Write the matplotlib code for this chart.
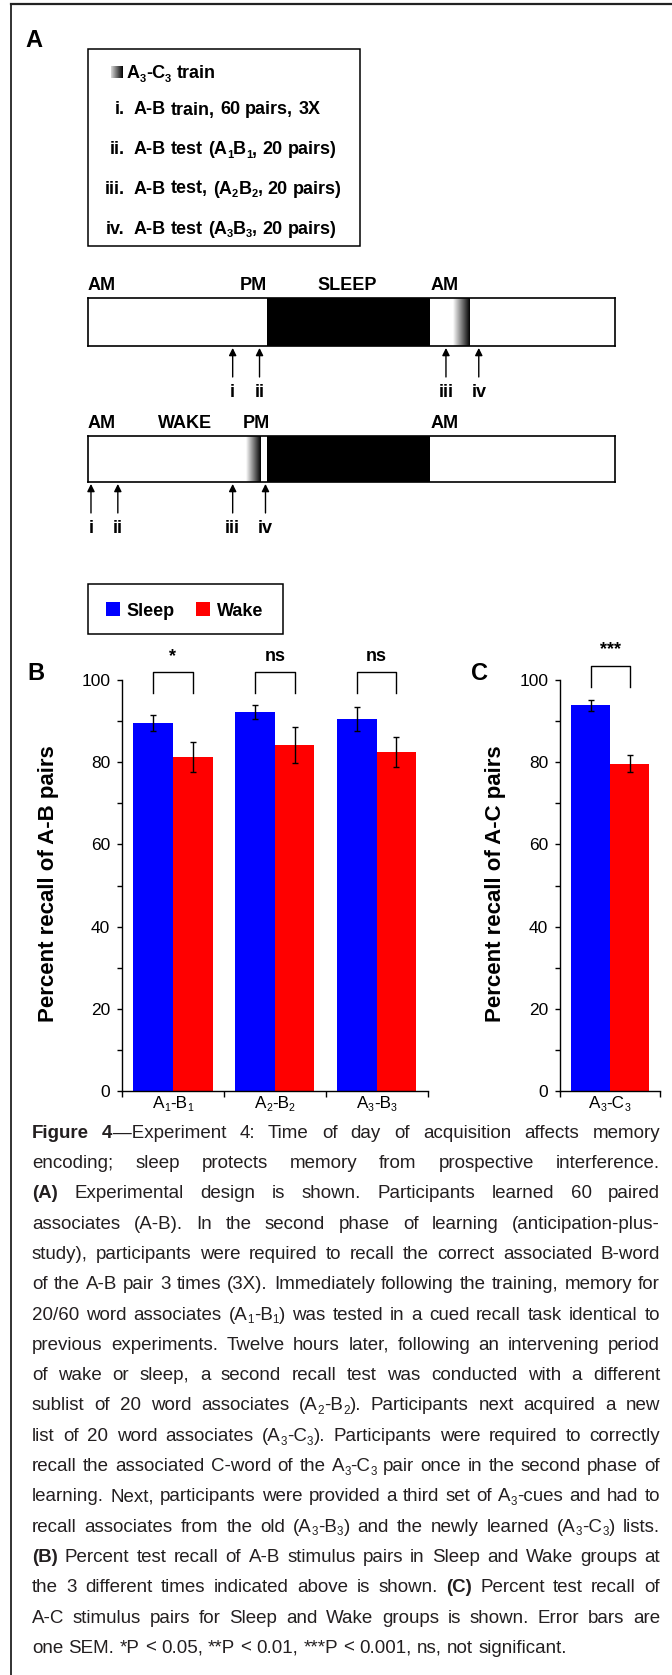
import matplotlib
matplotlib.use("Agg")
import matplotlib.pyplot as plt
import numpy as np
from matplotlib.font_manager import FontProperties
from matplotlib.patches import Rectangle
from matplotlib.lines import Line2D

W, H, DPI = 672, 1675, 100
FAM = ['Liberation Sans', 'DejaVu Sans']
plt.rcParams['font.family'] = FAM

# ---- data ----
ab_pairs = ['A_1-B_1', 'A_2-B_2', 'A_3-B_3']
ab_sleep = [89.5, 92.2, 90.5]
ab_sleep_sem = [2.0, 1.7, 3.0]
ab_wake = [81.2, 84.2, 82.5]
ab_wake_sem = [3.6, 4.3, 3.7]
ab_sig = ['*', 'ns', 'ns']

ac_pairs = ['A_3-C_3']
ac_sleep = [93.8]
ac_sleep_sem = [1.3]
ac_wake = [79.6]
ac_wake_sem = [2.1]
ac_sig = ['***']

group_names = ['Sleep', 'Wake']
group_colors = ['#0000ff', '#ff0000']
y_ticks = [0, 20, 40, 60, 80, 100]

design_keys = ['', 'i.', 'ii.', 'iii.', 'iv.']
design_text = ['A_3-C_3 train', 'A-B train, 60 pairs, 3X', 'A-B test (A_1B_1, 20 pairs)',
               'A-B test, (A_2B_2, 20 pairs)', 'A-B test (A_3B_3, 20 pairs)']

# timelines, hours from the first morning on each bar
span_h = 35.3
night = (12.0, 22.9)
sleep_train = (24.5, 25.6)
wake_train = (10.6, 11.6)
event_names = ['i', 'ii', 'iii', 'iv']
sleep_events = [9.7, 11.5, 24.0, 26.2]
wake_events = [0.2, 2.0, 9.7, 11.9]
sleep_marks = [('AM', 0.0), ('PM', 12.0), ('SLEEP', 17.35), ('AM', 22.95)]
wake_marks = [('AM', 0.0), ('WAKE', 6.5), ('PM', 12.2), ('AM', 22.95)]
mark_align = {'AM': 'left', 'PM': 'right'}

# § toggles bold, _x makes x a subscript
caption = [
    "§Figure 4§—Experiment 4: Time of day of acquisition affects memory",
    "encoding; sleep protects memory from prospective interference.",
    "§(A)§ Experimental design is shown. Participants learned 60 paired",
    "associates (A-B). In the second phase of learning (anticipation-plus-",
    "study), participants were required to recall the correct associated B-word",
    "of the A-B pair 3 times (3X). Immediately following the training, memory for",
    "20/60 word associates (A_1-B_1) was tested in a cued recall task identical to",
    "previous experiments. Twelve hours later, following an intervening period",
    "of wake or sleep, a second recall test was conducted with a different",
    "sublist of 20 word associates (A_2-B_2). Participants next acquired a new",
    "list of 20 word associates (A_3-C_3). Participants were required to correctly",
    "recall the associated C-word of the A_3-C_3 pair once in the second phase of",
    "learning. Next, participants were provided a third set of A_3-cues and had to",
    "recall associates from the old (A_3-B_3) and the newly learned (A_3-C_3) lists.",
    "§(B)§ Percent test recall of A-B stimulus pairs in Sleep and Wake groups at",
    "the 3 different times indicated above is shown. §(C)§ Percent test recall of",
    "A-C stimulus pairs for Sleep and Wake groups is shown. Error bars are",
    "one SEM. *P < 0.05, **P < 0.01, ***P < 0.001, ns, not significant.",
]

fig = plt.figure(figsize=(W / DPI, H / DPI), dpi=DPI)
fig.patch.set_facecolor('white')
R = fig.canvas.get_renderer()


def fx(x):
    return x / W


def fy(y):
    return 1 - y / H


def px_rect(x0, y0, x1, y1):
    return [x0 / W, 1 - y1 / H, (x1 - x0) / W, (y1 - y0) / H]


# ---- small rich text helper (bold runs, subscripts, justification) ----
SUB = 0.62


def fprop(size, bold):
    return FontProperties(family=FAM, size=size, weight='bold' if bold else 'normal')


def ink_w(s, size, bold):
    return R.get_text_width_height_descent(s, fprop(size, bold), ismath=False)[0]


def adv_w(s, size, bold):
    return ink_w('|' + s + '|', size, bold) - ink_w('||', size, bold)


def word_list(markup):
    chars, bold, i = [], False, 0
    while i < len(markup):
        c = markup[i]
        if c == '§':
            bold = not bold
        elif c == '_' and i + 1 < len(markup):
            chars.append((markup[i + 1], bold, True))
            i += 1
        else:
            chars.append((c, bold, False))
        i += 1
    words, cur = [], []
    for ch in chars + [(' ', False, False)]:
        if ch[0] == ' ':
            if cur:
                segs = []
                for c, b, s in cur:
                    if segs and segs[-1][1] == b and segs[-1][2] == s:
                        segs[-1][0] += c
                    else:
                        segs.append([c, b, s])
                words.append(segs)
            cur = []
        else:
            cur.append(ch)
    return words


def word_w(word, size):
    return sum(adv_w(t, size * (SUB if s else 1), b) for t, b, s in word)


def draw_word(word, x, y, size, color='k'):
    for t, b, s in word:
        sz = size * (SUB if s else 1)
        dy = 0.2 * size * DPI / 72 if s else 0
        fig.text(fx(x), fy(y + dy), t, fontsize=sz, fontweight='bold' if b else 'normal',
                 color=color, ha='left', va='baseline')
        x += adv_w(t, sz, b)
    return x


def space_w(size, bold=False):
    return ink_w('n n', size, bold) - ink_w('nn', size, bold)


def rich_width(markup, size):
    ws = word_list(markup)
    bold = any(seg[1] for w in ws for seg in w)
    return sum(word_w(w, size) for w in ws) + space_w(size, bold) * (len(ws) - 1)


def rich(markup, x, y, size, color='k', ha='left', x1=None):
    ws = word_list(markup)
    bold = any(seg[1] for w in ws for seg in w)
    widths = [word_w(w, size) for w in ws]
    gap = space_w(size, bold)
    if x1 is not None and len(ws) > 1:
        gap = (x1 - x - sum(widths)) / (len(ws) - 1)
    total = sum(widths) + gap * (len(ws) - 1)
    if ha == 'center':
        x -= total / 2
    elif ha == 'right':
        x -= total
    for w, wd in zip(ws, widths):
        draw_word(w, x, y, size, color)
        x += wd + gap


# ---- outer frame ----
fig.add_artist(Line2D([fx(11), fx(11)], [fy(4), 0], transform=fig.transFigure, color='#222', lw=1.3))
fig.add_artist(Line2D([fx(11), 1], [fy(4), fy(4)], transform=fig.transFigure, color='#222', lw=1.6))

# ---- panel A: design box ----
fig.text(fx(25), fy(47), 'A', fontsize=17, fontweight='bold', va='baseline')
fig.add_artist(Rectangle((fx(88), fy(246)), (359.5 - 88) / W, (246 - 49) / H,
                         transform=fig.transFigure, fill=False, ec='k', lw=1.1))
gax = fig.add_axes(px_rect(110.5, 66, 122, 78))
gax.imshow(np.linspace(0.15, 1, 64)[None, :], cmap='gray_r', vmin=0, vmax=1, aspect='auto')
gax.axis('off')
row_y = [72, 108, 148, 187, 227]
for k, (key, txt) in enumerate(zip(design_keys, design_text)):
    base = row_y[k] + 6.5
    if key:
        fig.text(fx(124.5), fy(base), key, fontsize=13, fontweight='bold', ha='right', va='baseline')
        rich('§' + txt, 134, base, 13)
    else:
        rich('§' + txt, 127, base, 13)


# ---- timelines ----
BAR_X0, BAR_X1 = 88, 614.5


def timeline(y0, y1, grad, events, marks):
    ax = fig.add_axes(px_rect(BAR_X0, y0, BAR_X1, y1))
    ax.axvspan(night[0], night[1], color='black', lw=0)
    ax.imshow(np.linspace(0, 1, 256)[None, :], cmap='gray_r', aspect='auto',
              extent=(grad[0], grad[1], 0, 1), interpolation='bilinear')
    ax.set_xlim(0, span_h)
    ax.set_ylim(0, 1)
    ax.set_xticks([])
    ax.set_yticks([])
    for sp in ax.spines.values():
        sp.set_linewidth(1.2)
    tr = ax.get_xaxis_transform()
    for name, t in marks:
        ax.annotate(name, xy=(t, 1), xycoords=tr, xytext=(0, 5.4), textcoords='offset points',
                    ha=mark_align.get(name, 'center'), va='baseline', fontsize=13, fontweight='bold')
    for name, t in zip(event_names, events):
        ax.annotate('', xy=(t, 0), xycoords=tr, xytext=(0, -22.3), textcoords='offset points',
                    arrowprops=dict(arrowstyle='-|>', color='k', lw=1.0, mutation_scale=11,
                                    shrinkA=0, shrinkB=1.4))
        ax.annotate(name, xy=(t, 0), xycoords=tr, xytext=(0, -36.4), textcoords='offset points',
                    ha='center', va='baseline', fontsize=13, fontweight='bold')
    return ax


timeline(298, 346, sleep_train, sleep_events, sleep_marks)
timeline(436, 482, wake_train, wake_events, wake_marks)

# ---- Sleep / Wake key ----
fig.add_artist(Rectangle((fx(88), fy(634)), (283.3 - 88) / W, 50 / H,
                         transform=fig.transFigure, fill=False, ec='k', lw=1.1))
for name, col, sx in zip(group_names, group_colors, [106, 196]):
    fig.add_artist(Rectangle((fx(sx), fy(616)), 14 / W, 14 / H, transform=fig.transFigure,
                             fc=col, ec='none'))
    fig.text(fx(sx + 20.6), fy(616), name, fontsize=13, fontweight='bold', va='baseline')

# ---- bar charts ----
BW = 0.39


def bars(rect, pairs, sleep, sleep_sem, wake, wake_sem, sig, label, lab_x, br_top, br_leg, sig_y):
    ax = fig.add_axes(px_rect(*rect))
    x = np.arange(len(pairs))
    ekw = dict(ecolor='k', elinewidth=1.0, capsize=2.4, capthick=1.0)
    ax.bar(x - BW / 2, sleep, BW, yerr=sleep_sem, color=group_colors[0], error_kw=ekw, zorder=2)
    ax.bar(x + BW / 2, wake, BW, yerr=wake_sem, color=group_colors[1], error_kw=ekw, zorder=2)
    ax.set_xlim(-0.5, len(pairs) - 0.5)
    ax.set_ylim(0, 100)
    for s in ['top', 'right']:
        ax.spines[s].set_visible(False)
    for s in ['left', 'bottom']:
        ax.spines[s].set_linewidth(1.0)
    ax.set_yticks(y_ticks)
    ax.set_yticks(np.arange(10, 100, 20), minor=True)
    ax.tick_params(axis='y', which='both', direction='out', length=3.5, width=1.0,
                   labelsize=12.5, pad=5)
    ax.set_xticks(np.arange(len(pairs) + 1) - 0.5)
    ax.set_xticklabels([])
    ax.tick_params(axis='x', direction='out', length=4, width=1.0)
    ax.set_ylabel(label, fontsize=16, fontweight='bold')
    ax.yaxis.set_label_coords(lab_x, 0.505)
    for i, s in enumerate(sig):
        x0, x1 = i - BW / 2, i + BW / 2
        ax.plot([x0, x0, x1, x1], [br_leg, br_top, br_top, br_leg], color='k', lw=1.0, clip_on=False)
        ax.text(i, sig_y, s, ha='center', va='center', fontsize=13, fontweight='bold')
    # category labels with subscripts
    for i, p in enumerate(pairs):
        cx = ax.transData.transform((i, 0))[0]
        rich(p, cx, 1108, 12.3, ha='center')
    return ax


bars((122, 680, 427.5, 1091), ab_pairs, ab_sleep, ab_sleep_sem, ab_wake, ab_wake_sem, ab_sig,
     'Percent recall of A-B pairs', -0.2046, 101.9, 96.8, 105.6)
bars((560, 680, 660, 1091), ac_pairs, ac_sleep, ac_sleep_sem, ac_wake, ac_wake_sem, ac_sig,
     'Percent recall of A-C pairs', -0.54, 103.4, 98.3, 107.3)

fig.text(fx(27), fy(680), 'B', fontsize=17, fontweight='bold', va='baseline')
fig.text(fx(471), fy(680), 'C', fontsize=17, fontweight='bold', va='baseline')

# ---- caption, justified ----
CAP_X0, CAP_X1 = 32, 660
cap_color = '#231f20'
base = 13.0
natural = [rich_width(l, base) for l in caption[:-1]]
cap_size = base * (CAP_X1 - CAP_X0) * 0.985 / max(natural)
cap_top, cap_pitch = 1131, 30.3
em = cap_size * DPI / 72
for k, line in enumerate(caption):
    yb = cap_top + k * cap_pitch + 0.36 * em
    last = k == len(caption) - 1
    rich(line, CAP_X0, yb, cap_size, color=cap_color, x1=None if last else CAP_X1)

fig.savefig('out.png', dpi=DPI, facecolor='white')
